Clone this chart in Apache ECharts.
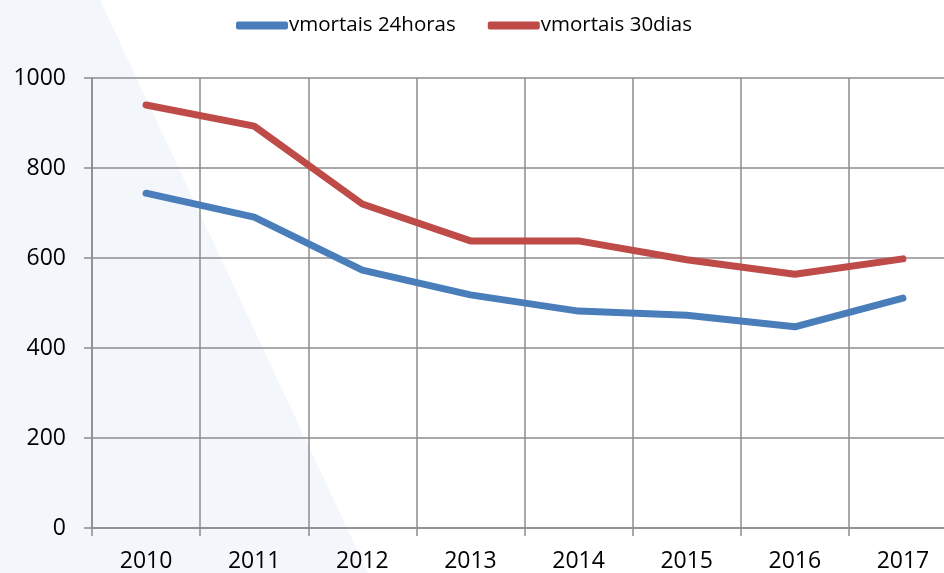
<!DOCTYPE html>
<html>
<head>
<meta charset="utf-8">
<script src="https://cdn.jsdelivr.net/npm/echarts@6/dist/echarts.min.js"></script>
<style>
html, body { margin: 0; padding: 0; background: #fff; }
#chart { width: 944px; height: 573px; }
</style>
</head>
<body>
<div id="chart"></div>
<script>
// dados
var anos = ['2010', '2011', '2012', '2013', '2014', '2015', '2016', '2017'];
var mortais24h = [744, 691, 573, 518, 482, 473, 447, 511];
var mortais30d = [940, 893, 720, 638, 638, 596, 564, 598];
var yTicks = [0, 200, 400, 600, 800, 1000];

var fonte = '"Open Sans", sans-serif';
var corGrade = '#8c8c8c';

var myChart = echarts.init(document.getElementById('chart'));
var option = {
    backgroundColor: '#ffffff',
    animation: false,
    // faixa clara diagonal no fundo
    graphic: [{
        type: 'polygon',
        z: -10,
        shape: { points: [[0, 0], [100, 0], [368, 573], [0, 573]] },
        style: { fill: '#f3f6fb' }
    }],
    legend: {
        top: 10,
        left: 231,
        itemWidth: 52,
        itemHeight: 8,
        itemGap: 32,
        icon: 'roundRect',
        textStyle: { fontFamily: fonte, fontSize: 20.5, color: '#000', padding: [0, 0, 0, -4] },
        data: ['vmortais 24horas', 'vmortais 30dias']
    },
    grid: {
        left: 92,
        right: -13,
        top: 78,
        bottom: 45,
        containLabel: false,
        outerBoundsMode: 'none'
    },
    xAxis: {
        type: 'category',
        data: anos,
        boundaryGap: true,
        axisLine: { lineStyle: { color: corGrade, width: 1.5 } },
        axisTick: { show: true, length: 8, lineStyle: { color: corGrade, width: 1.5 } },
        splitLine: { show: true, lineStyle: { color: corGrade, width: 1.5 } },
        axisLabel: { fontFamily: fonte, fontSize: 23, color: '#000', margin: 22 }
    },
    yAxis: {
        type: 'value',
        min: yTicks[0],
        max: yTicks[yTicks.length - 1],
        interval: 200,
        axisLine: { show: true, lineStyle: { color: corGrade, width: 1.5 } },
        axisTick: { show: true, length: 8, lineStyle: { color: corGrade, width: 1.5 } },
        splitLine: { show: true, lineStyle: { color: corGrade, width: 1.5 } },
        axisLabel: {
            fontFamily: fonte, fontSize: 23, color: '#000', margin: 26,
            formatter: function (v) { return String(v); }
        }
    },
    series: [
        {
            name: 'vmortais 24horas',
            type: 'line',
            data: mortais24h,
            symbol: 'none',
            color: '#4a7ebb',
            lineStyle: { width: 7, cap: 'round', join: 'round' }
        },
        {
            name: 'vmortais 30dias',
            type: 'line',
            data: mortais30d,
            symbol: 'none',
            color: '#be4b48',
            lineStyle: { width: 7, cap: 'round', join: 'round' }
        }
    ]
};
myChart.setOption(option);
</script>
</body>
</html>
